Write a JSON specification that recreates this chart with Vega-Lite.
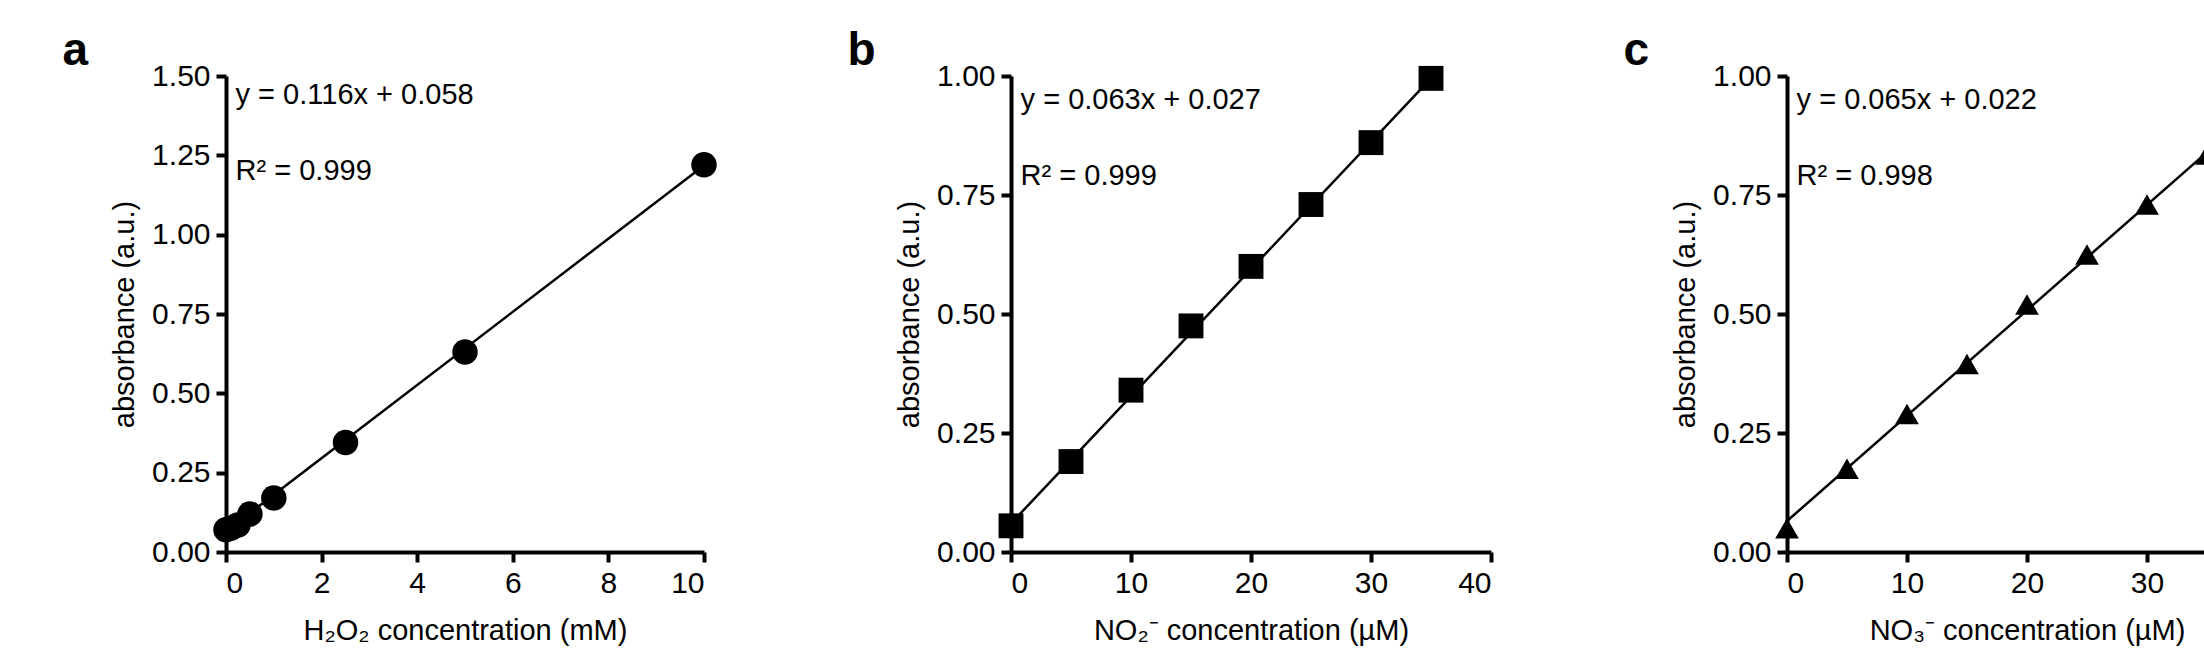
{
  "$schema": "https://vega.github.io/schema/vega-lite/v6.json",
  "background": "white",
  "padding": {"left": 62, "top": 28, "right": 10, "bottom": 5},
  "config": {
    "view": {"stroke": null},
    "font": "Liberation Sans",
    "axis": {
      "domainColor": "black", "domainWidth": 4, "tickColor": "black", "tickWidth": 4,
      "tickSize": 10, "grid": false, "labelFontSize": 30, "titleFontSize": 29,
      "labelColor": "black", "titleColor": "black", "titleFontWeight": "normal",
      "labelPadding": 6
    },
    "title": {"fontSize": 46, "fontWeight": "bold", "anchor": "start", "frame": "bounds", "dx": -48, "offset": -14}
  },
  "spacing": 130,
  "hconcat": [
    {
      "title": "a",
      "width": 478, "height": 476,
      "data": {"values": [
        {"x": 0, "y": 0.07}, {"x": 0.1, "y": 0.075}, {"x": 0.25, "y": 0.085},
        {"x": 0.5, "y": 0.12}, {"x": 1, "y": 0.17}, {"x": 2.5, "y": 0.345},
        {"x": 5, "y": 0.63}, {"x": 10, "y": 1.22}
      ]},
      "encoding": {
        "x": {"field": "x", "type": "quantitative", "scale": {"domain": [0, 10], "nice": false},
          "axis": {"values": [0, 2, 4, 6, 8, 10], "title": "H₂O₂ concentration (mM)", "titlePadding": 18}},
        "y": {"field": "y", "type": "quantitative", "scale": {"domain": [0, 1.5], "nice": false},
          "axis": {"values": [0, 0.25, 0.5, 0.75, 1, 1.25, 1.5], "format": ".2f", "title": "absorbance (a.u.)", "titlePadding": 12}}
      },
      "layer": [
        {"data": {"values": [{"x": 0, "y": 0.065}, {"x": 10, "y": 1.218}]},
         "mark": {"type": "line", "color": "black", "strokeWidth": 2.5}},
        {"mark": {"type": "point", "shape": "circle", "filled": true, "opacity": 1, "color": "black", "size": 650}},
        {"data": {"values": [{"x": 0.2, "y": 1.44, "t": "y = 0.116x + 0.058"}, {"x": 0.2, "y": 1.2, "t": "R² = 0.999"}]},
         "mark": {"type": "text", "align": "left", "fontSize": 29, "color": "black"},
         "encoding": {"text": {"field": "t"}}}
      ]
    },
    {
      "title": "b",
      "width": 480, "height": 476,
      "data": {"values": [
        {"x": 0, "y": 0.055}, {"x": 5, "y": 0.19}, {"x": 10, "y": 0.34}, {"x": 15, "y": 0.475},
        {"x": 20, "y": 0.6}, {"x": 25, "y": 0.73}, {"x": 30, "y": 0.86}, {"x": 35, "y": 0.995}
      ]},
      "encoding": {
        "x": {"field": "x", "type": "quantitative", "scale": {"domain": [0, 40], "nice": false},
          "axis": {"values": [0, 10, 20, 30, 40], "title": "NO₂⁻ concentration (µM)", "titlePadding": 18}},
        "y": {"field": "y", "type": "quantitative", "scale": {"domain": [0, 1], "nice": false},
          "axis": {"values": [0, 0.25, 0.5, 0.75, 1], "format": ".2f", "title": "absorbance (a.u.)", "titlePadding": 12}}
      },
      "layer": [
        {"data": {"values": [{"x": 0, "y": 0.06}, {"x": 35, "y": 0.995}]},
         "mark": {"type": "line", "color": "black", "strokeWidth": 2.5}},
        {"mark": {"type": "point", "shape": "square", "filled": true, "opacity": 1, "color": "black", "size": 620}},
        {"data": {"values": [{"x": 0.8, "y": 0.95, "t": "y = 0.063x + 0.027"}, {"x": 0.8, "y": 0.79, "t": "R² = 0.999"}]},
         "mark": {"type": "text", "align": "left", "fontSize": 29, "color": "black"},
         "encoding": {"text": {"field": "t"}}}
      ]
    },
    {
      "title": "c",
      "width": 480, "height": 476,
      "data": {"values": [
        {"x": 0, "y": 0.05}, {"x": 5, "y": 0.175}, {"x": 10, "y": 0.29}, {"x": 15, "y": 0.395},
        {"x": 20, "y": 0.52}, {"x": 25, "y": 0.625}, {"x": 30, "y": 0.73}, {"x": 35, "y": 0.835}
      ]},
      "encoding": {
        "x": {"field": "x", "type": "quantitative", "scale": {"domain": [0, 40], "nice": false},
          "axis": {"values": [0, 10, 20, 30, 40], "title": "NO₃⁻ concentration (µM)", "titlePadding": 18}},
        "y": {"field": "y", "type": "quantitative", "scale": {"domain": [0, 1], "nice": false},
          "axis": {"values": [0, 0.25, 0.5, 0.75, 1], "format": ".2f", "title": "absorbance (a.u.)", "titlePadding": 12}}
      },
      "layer": [
        {"data": {"values": [{"x": 0, "y": 0.065}, {"x": 35, "y": 0.84}]},
         "mark": {"type": "line", "color": "black", "strokeWidth": 2.5}},
        {"mark": {"type": "point", "shape": "triangle-up", "filled": true, "opacity": 1, "color": "black", "size": 560}},
        {"data": {"values": [{"x": 0.8, "y": 0.95, "t": "y = 0.065x + 0.022"}, {"x": 0.8, "y": 0.79, "t": "R² = 0.998"}]},
         "mark": {"type": "text", "align": "left", "fontSize": 29, "color": "black"},
         "encoding": {"text": {"field": "t"}}}
      ]
    }
  ]
}
